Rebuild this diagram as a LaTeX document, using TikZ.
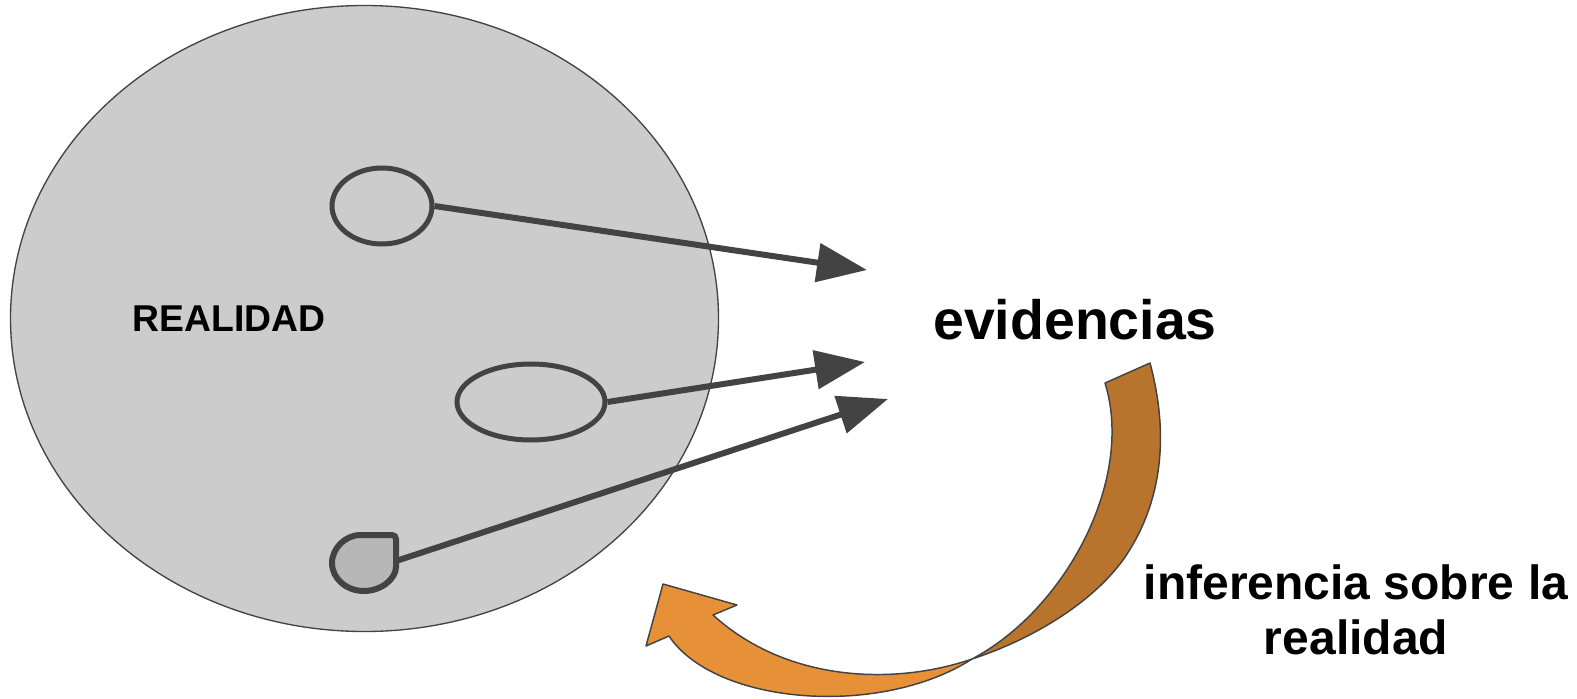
\documentclass[tikz,border=0pt]{standalone}
\usepackage{fontspec}
\setmainfont{Liberation Sans}
\usetikzlibrary{shapes.geometric,arrows.meta}
\definecolor{edge}{HTML}{434343}
\definecolor{realgray}{HTML}{CCCCCC}
\definecolor{teargray}{HTML}{B7B7B7}
\definecolor{orangec}{HTML}{E69138}
\definecolor{brownc}{HTML}{B8742D}
\tikzset{
  bigell/.style={ellipse, draw=edge, line width=1pt, fill=realgray, inner sep=0pt},
  smallell/.style={ellipse, draw=edge, line width=3.75pt, fill=realgray, inner sep=0pt},
  tearshape/.style={draw=edge, line width=4.5pt, fill=teargray, rounded corners=3pt},
  evarrow/.style={draw=edge, line width=4.5pt, -{Triangle[length=37.5pt,width=28.5pt]}},
  ribbon/.style={draw=edge, line width=1.1pt, line join=round},
  lbl/.style={inner sep=0pt, font=\bfseries}
}
\begin{document}
\begin{tikzpicture}[x=0.75pt,y=-0.75pt]
\useasboundingbox (0,0) rectangle (1577,699);

% reality
\node[bigell, minimum width=531pt, minimum height=469.5pt] (real) at (364.5,318.5) {};
\node[smallell, minimum width=75pt, minimum height=57pt] (e1) at (382,206) {};
\node[smallell, minimum width=111pt, minimum height=57pt] (e2) at (531,402) {};
\draw[tearshape] (396,563) arc[start angle=0, end angle=270, x radius=32, y radius=28] -- (396,535) -- cycle;
\coordinate (tear) at (396,561);

\node[lbl, font=\bfseries\fontsize{28}{31}\selectfont] (realtxt) at (229,319) {REALIDAD};
\node[lbl, font=\bfseries\fontsize{41.6}{48}\selectfont] (evid) at (1075,320) {evidencias};

% arrow tips
\coordinate (t1) at (867,270);
\coordinate (t2) at (865,362);
\coordinate (t3) at (888,399);
\draw[evarrow] (e1.east) -- (t1);
\draw[evarrow] (e2.east) -- (t2);
\draw[evarrow] (tear) -- (t3);

% curved inference arrow: back (brown) part
\draw[ribbon, fill=brownc] (1105,383) -- (1150,363)
  .. controls (1168,430) and (1165,500) .. (1123,560)
  .. controls (1090,605) and (1030,640) .. (972,659)
  .. controls (1065,610) and (1135,480) .. (1105,383)
  -- cycle;
% front (orange) part
\draw[ribbon, fill=orangec] (972,659)
  .. controls (900,684) and (790,685) .. (713,615)
  -- (737,605) -- (663,584) -- (646,646) -- (669,636)
  .. controls (715,705) and (880,718) .. (972,659)
  -- cycle;

\node[lbl, align=center, font=\bfseries\fontsize{36}{41.25}\selectfont] (infer) at (1356,610) {inferencia sobre la\\realidad};
\end{tikzpicture}
\end{document}
